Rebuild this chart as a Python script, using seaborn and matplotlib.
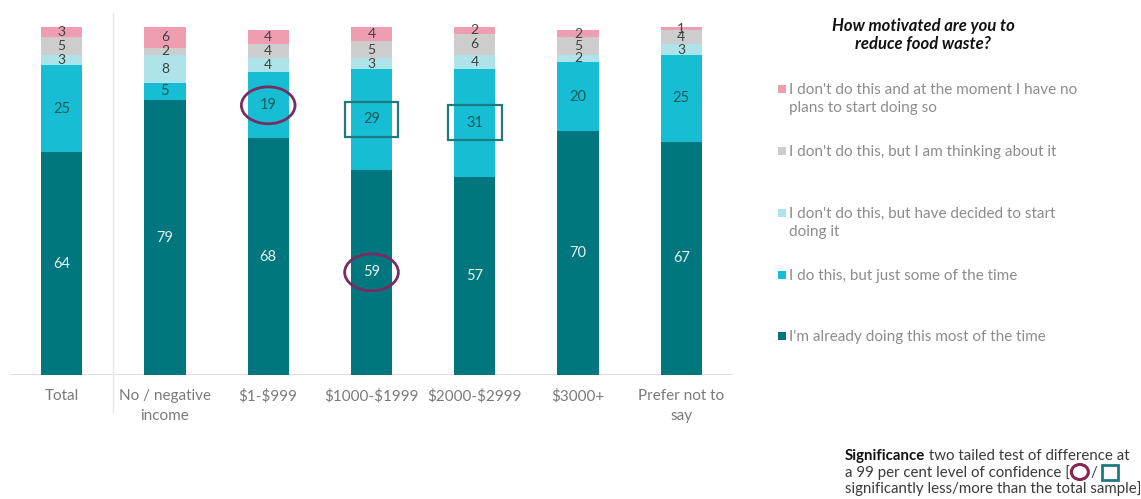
import matplotlib
matplotlib.use("Agg")
import matplotlib.pyplot as plt
from matplotlib.patches import Ellipse, Rectangle
import seaborn as sns
import pandas as pd

# ---------------- data ----------------
categories = ["Total", "No / negative\nincome", "$1-$999", "$1000-$1999",
              "$2000-$2999", "$3000+", "Prefer not to\nsay"]
already = [64, 79, 68, 59, 57, 70, 67]
some_time = [25, 5, 19, 29, 31, 20, 25]
decided = [3, 8, 4, 3, 4, 2, 3]
thinking = [5, 2, 4, 5, 6, 5, 4]
no_plans = [3, 6, 4, 4, 2, 2, 1]

series_names = [
    "I'm already doing this most of the time",
    "I do this, but just some of the time",
    "I don't do this, but have decided to start\ndoing it",
    "I don't do this, but I am thinking about it",
    "I don't do this and at the moment I have no\nplans to start doing so",
]
legend_title = "How motivated are you to\nreduce food waste?"
sig_less = [(2, "some_time"), (3, "already")]   # circled (less than total)
sig_more = [(3, "some_time"), (4, "some_time")]  # boxed (more than total)

# ---------------- style ----------------
sns.set_theme(style="white")
plt.rcParams["font.family"] = ["Lato", "DejaVu Sans"]

colors = {
    "already": "#00767F",
    "some_time": "#17BDD3",
    "decided": "#AEE3E9",
    "thinking": "#CDCDCD",
    "no_plans": "#EF9DB1",
}
label_colors = {
    "already": "#E6F3F4",
    "some_time": "#1E5A60",
    "decided": "#3E4346",
    "thinking": "#3E4346",
    "no_plans": "#3E4346",
}
keys = ["already", "some_time", "decided", "thinking", "no_plans"]
values = {"already": already, "some_time": some_time, "decided": decided,
          "thinking": thinking, "no_plans": no_plans}

W, H = 1141, 499
fig = plt.figure(figsize=(W / 100, H / 100), dpi=100)
fig.patch.set_facecolor("white")

def fx(px):
    return px / W

def fy(py):
    return 1 - py / H

ax = fig.add_axes([fx(10), fy(375), fx(733) - fx(10), fy(27) - fy(375)])

df = pd.DataFrame({"cat": categories, **values})
bottom = [0] * len(categories)
for k in keys:
    sns.barplot(data=df, x="cat", y=k, order=categories, color=colors[k],
                width=0.4, bottom=bottom, saturation=1, ax=ax,
                linewidth=0, edgecolor="none")
    small = k in ("decided", "thinking", "no_plans")
    for i, v in enumerate(values[k]):
        ax.text(i, bottom[i] + v / 2, f"{v}", ha="center", va="center",
                fontsize=10 if small else 10.5, color=label_colors[k])
    bottom = [b + v for b, v in zip(bottom, values[k])]

ax.set_xlim(-0.5, len(categories) - 0.5)
ax.set_ylim(0, 100)
ax.set_xlabel("")
ax.set_ylabel("")
ax.set_yticks([])
ax.set_xticks(range(len(categories)))
ax.set_xticklabels([c.replace("$", r"\$") for c in categories],
                   fontsize=11, color="#7A7A7A", linespacing=1.55)
ax.tick_params(axis="x", length=0, pad=10)
for s in ax.spines.values():
    s.set_visible(False)
ax.axhline(0, color="#D9D9D9", lw=1.2, zorder=0)
# separator between Total and the income groups
ax.plot([0.5, 0.5], [-11, 104], color="#E8E8E8", lw=1, clip_on=False, zorder=0)

# significance markers
def seg_center(i, key):
    idx = keys.index(key)
    b = sum(values[kk][i] for kk in keys[:idx])
    return b + values[key][i] / 2

for i, key in sig_less:
    ax.add_patch(Ellipse((i, seg_center(i, key)), 0.52, 10.6, fill=False,
                         edgecolor="#7A2B62", lw=2, clip_on=False, zorder=5))
for i, key in sig_more:
    c = seg_center(i, key)
    ax.add_patch(Rectangle((i - 0.26, c - 5.0), 0.52, 10.0, fill=False,
                           edgecolor="#1F7A80", lw=1.6, clip_on=False, zorder=5))

# ---------------- legend (manual) ----------------
fig.text(fx(923), fy(35), legend_title, ha="center", va="center",
         fontsize=12, fontweight="bold", fontstyle="italic", color="#111111",
         linespacing=1.15)
legend_y = {"no_plans": 89, "thinking": 151, "decided": 213,
            "some_time": 275, "already": 336}
for k in ["no_plans", "thinking", "decided", "some_time", "already"]:
    y = legend_y[k]
    fig.patches.append(Rectangle((fx(778), fy(y + 4)), 8 / W, 8 / H,
                                 transform=fig.transFigure,
                                 facecolor=colors[k], edgecolor="none"))
    fig.text(fx(789), fy(y - 6), series_names[keys.index(k)], ha="left",
             va="top", fontsize=11, color="#8C8C8C", linespacing=1.38)

# ---------------- significance note ----------------
fig.canvas.draw()
renderer = fig.canvas.get_renderer()
sig_fs = 10.8
x0 = fx(845)
t1 = fig.text(x0, fy(456), "Significance", fontsize=sig_fs, fontweight="bold",
              color="#111111", va="center", ha="left")
bb = t1.get_window_extent(renderer)
fig.text(bb.x1 / W, fy(456), " two tailed test of difference at",
         fontsize=sig_fs, color="#3A3A3A", va="center", ha="left")
t2 = fig.text(x0, fy(473), "a 99 per cent level of confidence [",
              fontsize=sig_fs, color="#3A3A3A", va="center", ha="left")
bb2 = t2.get_window_extent(renderer)
ex = bb2.x1 + 10
fig.patches.append(Ellipse((ex / W, fy(472)), 17 / W, 15 / H,
                           transform=fig.transFigure, fill=False,
                           edgecolor="#8A2550", lw=2.2))
t3 = fig.text((ex + 11) / W, fy(473), "/", fontsize=sig_fs, color="#3A3A3A",
              va="center", ha="left")
bb3 = t3.get_window_extent(renderer)
fig.patches.append(Rectangle(((bb3.x1 + 4) / W, fy(480)), 16 / W, 15 / H,
                             transform=fig.transFigure, fill=False,
                             edgecolor="#1F7A80", lw=2))
fig.text(x0, fy(489), "significantly less/more than the total sample]",
         fontsize=sig_fs, color="#3A3A3A", va="center", ha="left")

fig.savefig("out.png", dpi=100, facecolor="white")
